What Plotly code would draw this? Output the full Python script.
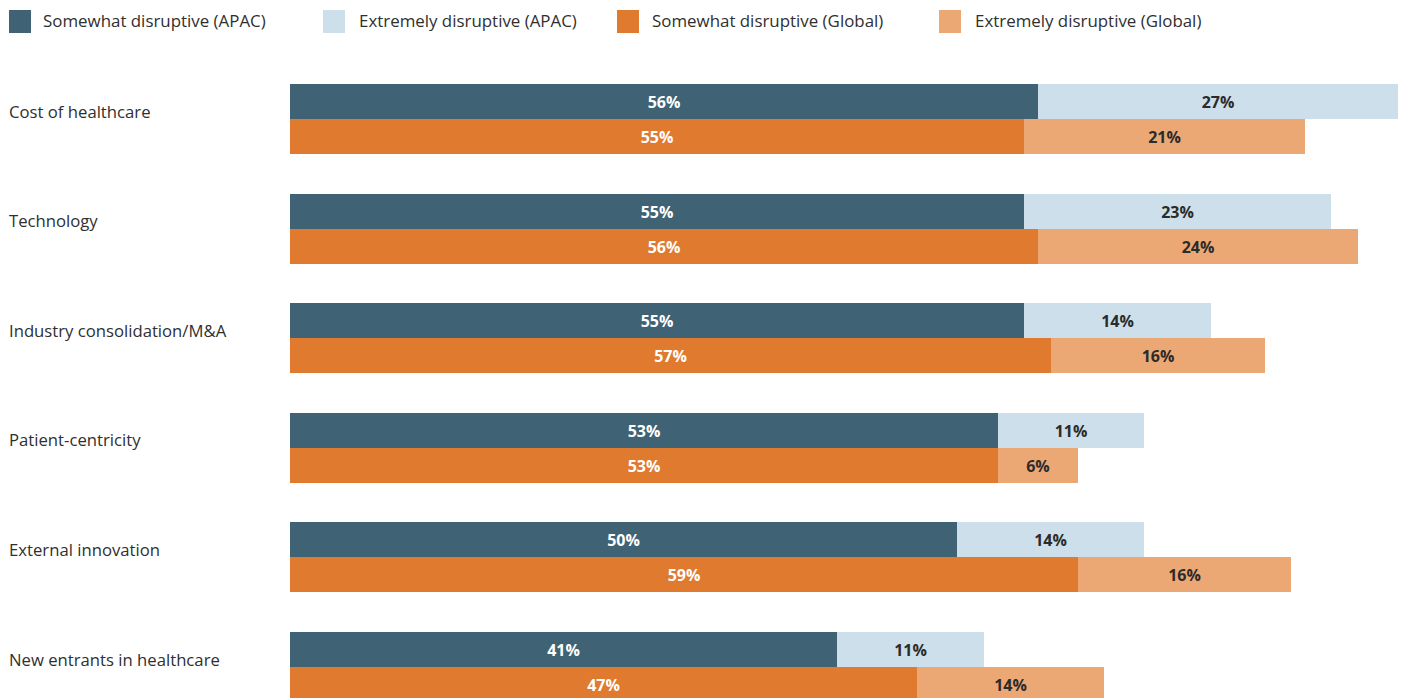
import plotly.graph_objects as go

categories = ["Cost of healthcare", "Technology", "Industry consolidation/M&A",
              "Patient-centricity", "External innovation", "New entrants in healthcare"]
apac_somewhat = [56, 55, 55, 53, 50, 41]
apac_extremely = [27, 23, 14, 11, 14, 11]
global_somewhat = [55, 56, 57, 53, 59, 47]
global_extremely = [21, 24, 16, 6, 16, 14]

series_names = ["Somewhat disruptive (APAC)", "Extremely disruptive (APAC)",
                "Somewhat disruptive (Global)", "Extremely disruptive (Global)"]
colors = ["#3f6275", "#cddfea", "#df7a2f", "#eba874"]
text_colors = ["#ffffff", "#2b2b2b", "#ffffff", "#2b2b2b"]

W, H = 1402, 698
L, R, T, B = 290, 4, 64, 0
PW, PH = W - L - R, H - T - B
FONT = "Open Sans"

idx = list(range(len(categories)))
y_apac = [i - 0.16 for i in idx]
y_glob = [i + 0.16 for i in idx]

fig = go.Figure()
data = [(apac_somewhat, y_apac), (apac_extremely, y_apac),
        (global_somewhat, y_glob), (global_extremely, y_glob)]
for k, (vals, ys) in enumerate(data):
    fig.add_trace(go.Bar(
        x=vals, y=ys, orientation="h", width=0.32, name=series_names[k],
        marker=dict(color=colors[k], line=dict(width=0)),
        text=[f"{v}%" for v in vals], textposition="inside",
        insidetextanchor="middle", textangle=0, constraintext="none",
        textfont=dict(family=FONT, size=16, color=text_colors[k], weight="bold"),
        hoverinfo="skip", showlegend=False,
    ))

ppu = 109.6
c0 = 119
r_top = -(c0 - T) / ppu
r_bot = (H - B - c0) / ppu

def px_to_paper_x(px):
    return (px - L) / PW

def px_to_paper_y(py):
    return (H - B - py) / PH

annotations = []
for i, c in enumerate(categories):
    annotations.append(dict(
        x=px_to_paper_x(7), xref="paper", y=i, yref="y", text=c,
        xanchor="left", yanchor="middle", showarrow=False, yshift=8,
        font=dict(family=FONT, size=16.7, color="#2f2f2f")))

shapes = []
sq_x = [9, 323, 617, 939]
txt_x = [41, 357, 650, 973]
for k, name in enumerate(series_names):
    shapes.append(dict(type="rect", xref="paper", yref="paper",
                       x0=px_to_paper_x(sq_x[k]), x1=px_to_paper_x(sq_x[k] + 22),
                       y0=px_to_paper_y(33), y1=px_to_paper_y(10),
                       fillcolor=colors[k], line=dict(width=0)))
    annotations.append(dict(
        x=px_to_paper_x(txt_x[k]), xref="paper", y=px_to_paper_y(21), yref="paper",
        text=name, xanchor="left", yanchor="middle", showarrow=False,
        font=dict(family=FONT, size=16.9, color="#2f2f2f")))

fig.update_layout(
    width=W, height=H, barmode="stack", bargap=0,
    margin=dict(l=L, r=R, t=T, b=B, pad=0),
    paper_bgcolor="white", plot_bgcolor="white",
    xaxis=dict(range=[0, 83], visible=False, fixedrange=True),
    yaxis=dict(range=[r_bot, r_top], visible=False, fixedrange=True),
    annotations=annotations, shapes=shapes,
    uniformtext=dict(mode=False),
)

fig.write_html("out.html", config={"displayModeBar": False})
